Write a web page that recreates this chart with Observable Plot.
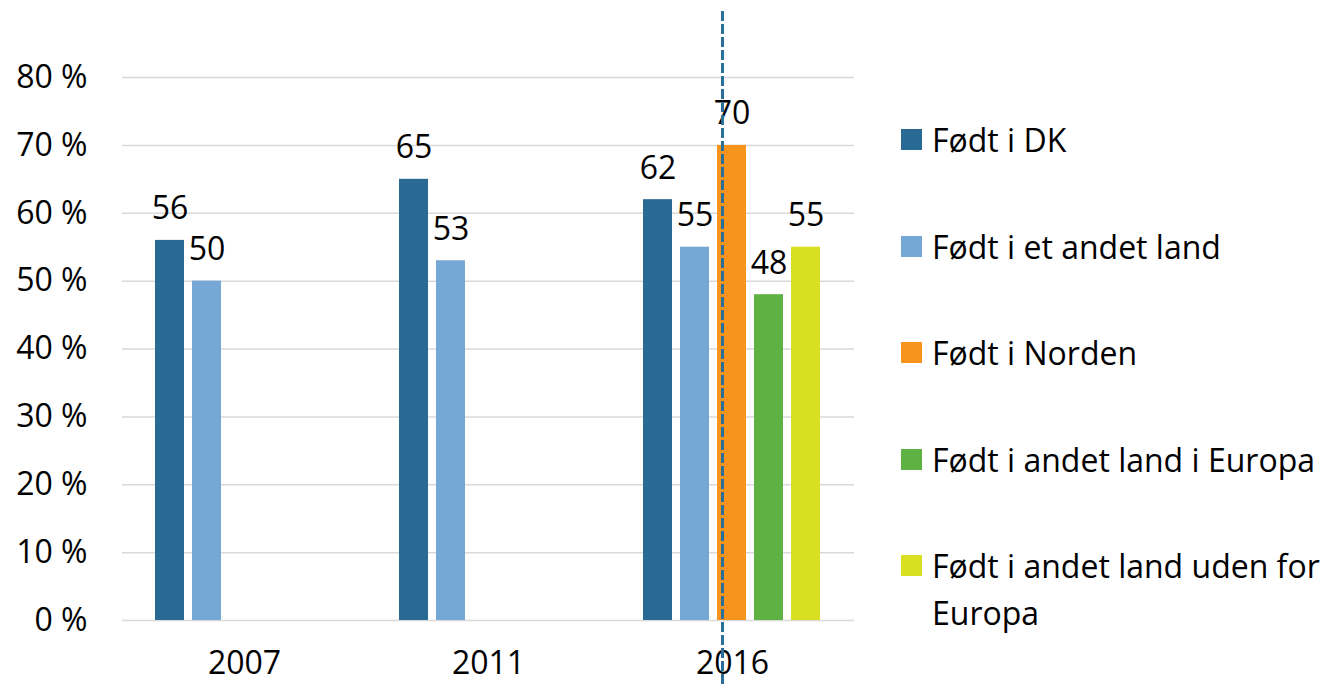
<!DOCTYPE html>
<html>
<head>
<meta charset="utf-8">
<script src="https://cdn.jsdelivr.net/npm/d3@7"></script>
<script src="https://cdn.jsdelivr.net/npm/@observablehq/plot@0.6"></script>
<style>
  html, body { margin: 0; padding: 0; background: #fff; color: #000; }
  body { width: 1330px; height: 684px; position: relative; overflow: hidden; font-family: "Open Sans", sans-serif; }
  #chart { position: absolute; left: 0; top: 0; }
  #legend { position: absolute; left: 901px; top: 116px; font-size: 32px; line-height: 47px; }
  .item { display: flex; align-items: flex-start; margin-bottom: 59.5px; }
  .sw { width: 21px; height: 21px; flex: none; margin-top: 13px; margin-right: 10px; }
  .lbl { width: 398px; }
</style>
</head>
<body>
<div id="chart"></div>
<div id="legend"></div>
<script>
// --- data ---
const years = ["2007", "2011", "2016"];
const series = [
  "Født i DK",
  "Født i et andet land",
  "Født i Norden",
  "Født i andet land i Europa",
  "Født i andet land uden for Europa"
];
const fodtDK      = [56, 65, 62];
const fodtAndet   = [50, 53, 55];
const fodtNorden  = [null, null, 70];
const fodtEuropa  = [null, null, 48];
const fodtUdenfor = [null, null, 55];
const colors = ["#286a93", "#76a8d6", "#f7941e", "#5eb143", "#d8e021"];
const yTicks = [0, 10, 20, 30, 40, 50, 60, 70, 80];
const markerYear = "2016";
const markerSeries = "Født i Norden";

const valueLists = [fodtDK, fodtAndet, fodtNorden, fodtEuropa, fodtUdenfor];
const rows = [];
years.forEach((yr, i) => {
  series.forEach((s, j) => {
    const v = valueLists[j][i];
    if (v != null) rows.push({year: yr, series: s, value: v});
  });
});

const chart = Plot.plot({
  width: 1330,
  height: 684,
  marginLeft: 121,
  marginRight: 475,
  marginTop: 77,
  marginBottom: 64,
  style: {fontFamily: "Open Sans", fontSize: "32px", color: "#000", background: "#fff"},
  fx: {domain: years, padding: 0, tickSize: 0, tickPadding: 31, label: null},
  x: {domain: series, paddingInner: 0.213, paddingOuter: 0.869, axis: null},
  y: {domain: [0, 80], ticks: yTicks, tickSize: 0, tickPadding: 35, label: null, tickFormat: d => `${d} %`},
  color: {domain: series, range: colors},
  marks: [
    Plot.gridY(yTicks, {stroke: "#d9d9d9", strokeOpacity: 1, strokeWidth: 1.5}),
    Plot.barY(rows, {fx: "year", x: "series", y: "value", fill: "series"}),
    Plot.text(rows, {fx: "year", x: "series", y: "value", text: d => String(d.value),
      lineAnchor: "bottom", dy: -21, fill: "#000", fontSize: 32}),
    Plot.ruleX([{year: markerYear, series: markerSeries}], {fx: "year", x: "series",
      stroke: "#2a6e9a", strokeWidth: 3, strokeDasharray: "10,3", dx: -9.5,
      insetTop: -66, insetBottom: -64})
  ]
});
document.getElementById("chart").appendChild(chart);

// legend from the chart's color scale
const cs = chart.scale("color");
const legend = document.getElementById("legend");
cs.domain.forEach((d, i) => {
  const item = document.createElement("div");
  item.className = "item";
  const sw = document.createElement("div");
  sw.className = "sw";
  sw.style.background = cs.range[i];
  const lbl = document.createElement("div");
  lbl.className = "lbl";
  lbl.textContent = d;
  item.appendChild(sw);
  item.appendChild(lbl);
  legend.appendChild(item);
});
</script>
</body>
</html>
